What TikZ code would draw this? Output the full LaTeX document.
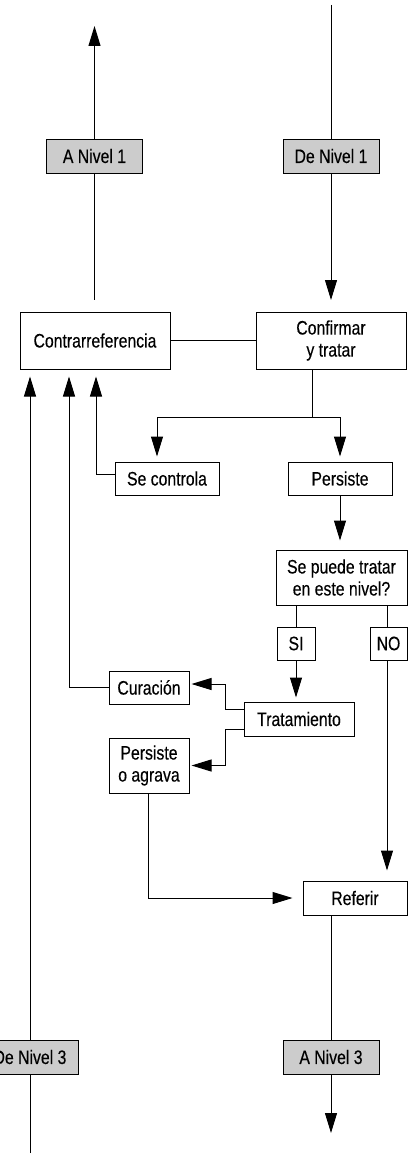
\documentclass[tikz,border=0pt]{standalone}
\usepackage{fontspec}
\setmainfont[FakeStretch=0.81, FakeBold=0.3]{Liberation Sans}
\usepackage{tikz}
\usetikzlibrary{arrows.meta}

\definecolor{levelgrey}{gray}{0.8}
\tikzset{
	box/.style={draw, line width=1pt, inner sep=0pt, align=center, font=\fontsize{19.5}{22}\selectfont},
	level/.style={box, fill=levelgrey, minimum width=96pt, minimum height=34pt},
	arr/.style={-{Triangle[length=20pt,width=12pt]}},
}

\begin{document}
\begin{tikzpicture}[x=1pt, y=-1pt, line width=1pt]
	\useasboundingbox (0,0) rectangle (408,1156);

	\node[level] (an1) at (94.5,156) {A Nivel 1};
	\node[level] (dn1) at (331,156) {De Nivel 1};
	\node[box, minimum width=150pt, minimum height=57pt] (contra) at (95,340.5) {Contrarreferencia};
	\node[box, minimum width=150pt, minimum height=57pt] (confirmar) at (331,340.5) {Confirmar\\y tratar};
	\node[box, minimum width=104pt, minimum height=33pt] (secontrola) at (167,478.5) {Se controla};
	\node[box, minimum width=104pt, minimum height=33pt] (persiste) at (340,478.5) {Persiste};
	\node[box, minimum width=131pt, minimum height=55pt] (sepuede) at (341.5,577.5) {Se puede tratar\\en este nivel?};
	\node[box, minimum width=38pt, minimum height=33pt] (si) at (296,643.5) {SI};
	\node[box, minimum width=37pt, minimum height=33pt] (no) at (388.5,643.5) {NO};
	\node[box, minimum width=110pt, minimum height=34pt] (tratamiento) at (299,719) {Tratamiento};
	\node[box, minimum width=80pt, minimum height=33pt] (curacion) at (149,687.5) {Curación};
	\node[box, minimum width=80pt, minimum height=55pt] (agrava) at (149,765.5) {Persiste\\o agrava};
	\node[box, minimum width=104pt, minimum height=34pt] (referir) at (355,898) {Referir};
	\node[level] (an3) at (331,1057) {A Nivel 3};
	\node[level] (dn3) at (30,1057) {De Nivel 3};

	\coordinate (out1) at (94.5,26);
	\coordinate (gap1) at (94.5,300);
	\coordinate (in1) at (331,5);
	\coordinate (gap2) at (331,300);
	\coordinate (split) at (312,417);
	\coordinate (in3) at (30,1153);
	\coordinate (out3) at (331,1133);

	\draw[arr] (an1.north) -- (out1);
	\draw (an1.south) -- (gap1);
	\draw (in1) -- (dn1.north);
	\draw[arr] (dn1.south) -- (gap2);

	\draw (contra.east) -- (confirmar.west);
	\draw (confirmar.south -| split) -- (split);
	\draw[arr, shorten >=5pt] (split) -| ([xshift=-10pt]secontrola.north);
	\draw[arr, shorten >=5pt] (split) -| (persiste.north);

	\draw[arr, shorten >=7pt] ([yshift=4pt]secontrola.west) -| ([xshift=1pt]contra.south);
	\draw[arr, shorten >=7pt] (curacion.west) -| ([xshift=-26pt]contra.south);
	\draw (in3) -- (dn3.south);
	\draw[arr, shorten >=7pt] (dn3.north) -- (dn3.north |- contra.south);

	\draw[arr, shorten >=9pt] (persiste.south) -- (persiste.south |- sepuede.north);
	\draw (si.north |- sepuede.south) -- (si.north);
	\draw ([xshift=-1.5pt]no.north |- sepuede.south) -- ([xshift=-1.5pt]no.north);
	\draw[arr, shorten >=4pt] (si.south) -- (si.south |- tratamiento.north);
	\draw[arr, shorten >=10pt] ([xshift=-1.5pt]no.south) -- ([xshift=-1.5pt]no.south |- referir.north);

	\draw[arr, shorten >=2pt] ([yshift=10pt]tratamiento.west) -- ++(-18,0) |- ([yshift=3.5pt]curacion.east);
	\draw[arr, shorten >=2pt] ([yshift=-10pt]tratamiento.west) -- ++(-18,0) |- (agrava.east);
	\draw[arr, shorten >=10pt] ([xshift=-1pt]agrava.south) |- (referir.west);

	\draw (referir.south -| an3.north) -- (an3.north);
	\draw[arr] (an3.south) -- (out3);
\end{tikzpicture}
\end{document}
